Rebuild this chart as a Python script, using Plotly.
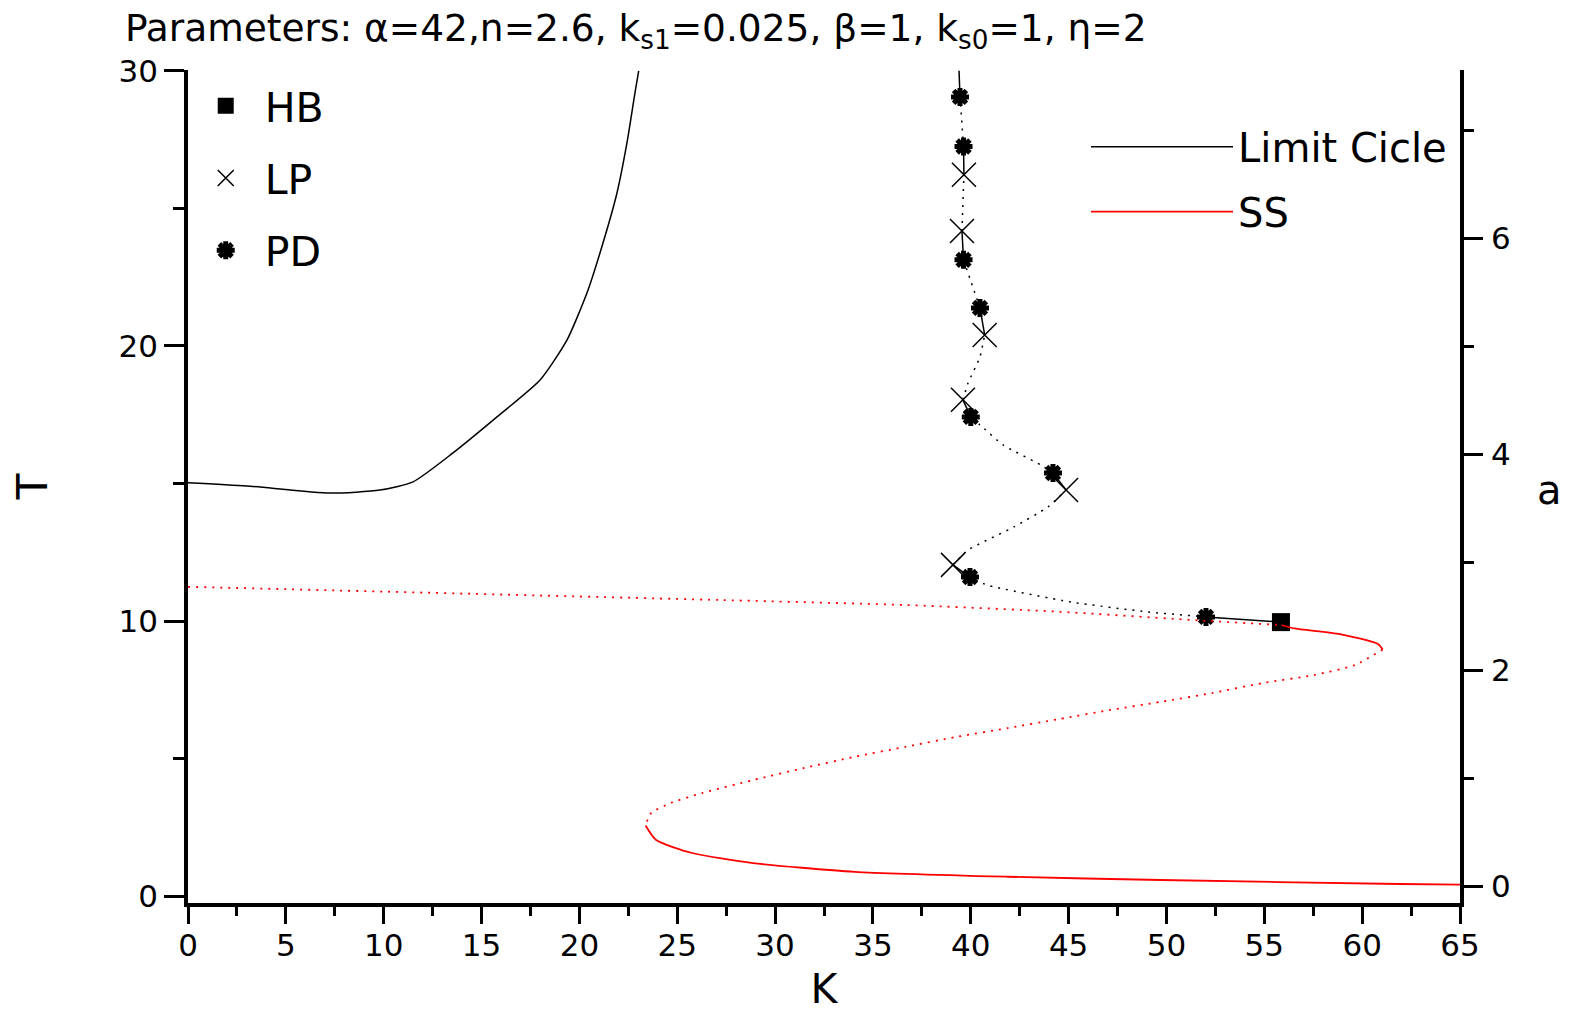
import plotly.graph_objects as go

# ---------------- data ----------------
# Left limit-cycle curve (period T vs K)
left_K = [0, 3.0, 7.26, 9.81, 11.5, 13.54, 15.79, 17.99, 19.37, 20.39, 21.21, 21.92, 22.43, 22.84, 23.03]
left_T = [15.03, 14.91, 14.65, 14.76, 15.06, 16.11, 17.42, 18.76, 20.22, 21.93, 23.75, 25.56, 27.38, 29.2, 30.0]

# Limit-cycle branch emanating from HB (period T vs K)
lc_K = [55.85, 52.02, 49.06, 45.12, 40.83, 39.96, 39.09, 39.86, 42.21, 43.95, 44.87, 44.20, 43.59,
        41.65, 40.47, 40.00, 39.60, 39.86, 40.47, 40.71, 40.47, 39.63, 39.55, 39.65, 39.63, 39.45, 39.40]
lc_T = [9.96, 10.15, 10.33, 10.69, 11.31, 11.60, 12.04, 12.58, 13.42, 14.15, 14.76, 15.38, 15.67,
        16.40, 17.13, 17.42, 18.04, 18.65, 19.60, 20.40, 21.38, 23.13, 24.18, 26.22, 27.25, 29.05, 30.0]
# (start index, end index, stable?)
lc_segments = [(0, 1, True), (1, 5, False), (5, 6, True), (6, 10, False), (10, 11, True),
               (11, 15, False), (15, 16, True), (16, 19, False), (19, 20, True), (20, 21, False),
               (21, 22, True), (22, 23, False), (23, 24, True), (24, 25, False), (25, 26, True)]

# Special points (indices into the limit-cycle branch)
HB_idx = [0]
LP_idx = [6, 10, 16, 19, 22, 23]
PD_idx = [1, 5, 11, 15, 20, 21, 24, 25]

# Steady state curve (a vs K)
ss_K = [0, 27.29, 36.69, 44.51, 52.0, 55.88, 56.52, 58.87, 60.81, 61.05, 59.63, 57.54, 54.93, 52.33,
        49.72, 47.11, 44.51, 41.90, 39.30, 36.69, 34.08, 31.48, 28.87, 26.27, 24.68, 23.66, 23.38,
        23.92, 25.76, 28.87, 34.08, 41.90, 49.72, 61.93, 65.0]
ss_a = [2.771, 2.648, 2.602, 2.540, 2.456, 2.417, 2.386, 2.333, 2.241, 2.19, 2.046, 1.954, 1.880, 1.787,
        1.706, 1.630, 1.546, 1.463, 1.382, 1.290, 1.197, 1.093, 0.981, 0.861, 0.769, 0.676, 0.56,
        0.426, 0.306, 0.213, 0.132, 0.086, 0.056, 0.019, 0.014]
ss_segments = [(0, 5, False), (5, 9, True), (9, 26, False), (26, 34, True)]

title_text = ("Parameters: \u03b1=42,n=2.6, k<sub>s1</sub>=0.025, \u03b2=1, "
              "k<sub>s0</sub>=1, \u03b7=2")

# ---------------- figure ----------------
FONT = "DejaVu Sans"
DOT = "2px,6px"
fig = go.Figure()

# Steady state (right axis)
first = True
for s, e, stable in ss_segments:
    fig.add_trace(go.Scatter(
        x=ss_K[s:e + 1], y=ss_a[s:e + 1], yaxis="y2", mode="lines",
        line=dict(color="#ff0000", width=1.8, dash="solid" if stable else DOT, shape="spline", smoothing=0.6),
        name="SS", legend="legend2", legendgroup="ss", legendrank=2,
        showlegend=(stable and first), hoverinfo="skip"))
    if stable:
        first = False

# Limit cycle curves (left axis)
fig.add_trace(go.Scatter(
    x=left_K, y=left_T, mode="lines", line=dict(color="black", width=1.5, shape="spline", smoothing=0.6),
    name="Limit Cicle", legend="legend2", legendgroup="lc", legendrank=1, showlegend=True))
for s, e, stable in lc_segments:
    fig.add_trace(go.Scatter(
        x=lc_K[s:e + 1], y=lc_T[s:e + 1], mode="lines",
        line=dict(color="black", width=1.5, dash="solid" if stable else DOT, shape="spline", smoothing=0.5),
        showlegend=False, legend="legend2", hoverinfo="skip"))

# Special points
fig.add_trace(go.Scatter(
    x=[lc_K[i] for i in HB_idx], y=[lc_T[i] for i in HB_idx], mode="markers", name="HB",
    marker=dict(symbol="square", size=18, color="black"), legendgroup="hb"))
fig.add_trace(go.Scatter(
    x=[lc_K[i] for i in LP_idx], y=[lc_T[i] for i in LP_idx], mode="markers", name="LP",
    marker=dict(symbol="x-thin-open", size=24, color="black", line=dict(color="black", width=1.5)),
    legendgroup="lp"))
fig.add_trace(go.Scatter(
    x=[lc_K[i] for i in PD_idx], y=[lc_T[i] for i in PD_idx], mode="markers", name="PD",
    marker=dict(symbol="asterisk-open", size=15, color="black", line=dict(color="black", width=5)),
    legendgroup="pd"))

axis_common = dict(
    showline=True, linewidth=3.5, linecolor="black", ticks="outside", tickwidth=3,
    tickcolor="black", showgrid=False, zeroline=False, automargin=False,
    tickfont=dict(family=FONT, size=31, color="black"),
)

# The page body has an 8px margin: the figure is sized so that it fits the window exactly.
fig.update_layout(
    width=1553, height=1005,
    margin=dict(l=180, r=101, t=62, b=110, autoexpand=False),
    paper_bgcolor="white", plot_bgcolor="white",
    font=dict(family=FONT, color="black"),
    title=dict(text=title_text, font=dict(family=FONT, size=37.5, color="black"),
               x=0.352, xref="paper", xanchor="center", y=0.993, yref="container", yanchor="top"),
    xaxis=dict(range=[0, 65], dtick=5, tick0=0, ticklen=17, ticklabelstandoff=-5,
               minor=dict(dtick=2.5, ticklen=9, tickwidth=3, ticks="outside", tickcolor="black"),
               title=dict(text="K", font=dict(family=FONT, size=41), standoff=33),
               **axis_common),
    yaxis=dict(range=[-0.25, 30.03], dtick=10, tick0=0, ticklen=20, ticklabelstandoff=0,
               minor=dict(dtick=5, ticklen=11, tickwidth=3, ticks="outside", tickcolor="black"),
               title=dict(text="T", font=dict(family=FONT, size=42), standoff=67),
               **axis_common),
    yaxis2=dict(range=[-0.157, 7.556], dtick=2, tick0=0, ticklen=19, ticklabelstandoff=2,
                overlaying="y", side="right", anchor="x",
                minor=dict(dtick=1, ticklen=10, tickwidth=3, ticks="outside", tickcolor="black"),
                **axis_common),
    legend=dict(x=-0.001, y=0.997, xanchor="left", yanchor="top", bgcolor="rgba(0,0,0,0)",
                font=dict(family=FONT, size=41, color="black"), itemwidth=68,
                tracegroupgap=16, traceorder="grouped"),
    legend2=dict(x=0.706, y=0.947, xanchor="left", yanchor="top", bgcolor="rgba(0,0,0,0)",
                 font=dict(family=FONT, size=40, color="black"), itemwidth=142,
                 tracegroupgap=10, traceorder="grouped"),
    annotations=[dict(text="a", xref="paper", yref="paper", x=1.070, y=0.496,
                      xanchor="center", yanchor="middle", showarrow=False,
                      font=dict(family=FONT, size=40, color="black"))],
)

fig.write_html("out.html")
